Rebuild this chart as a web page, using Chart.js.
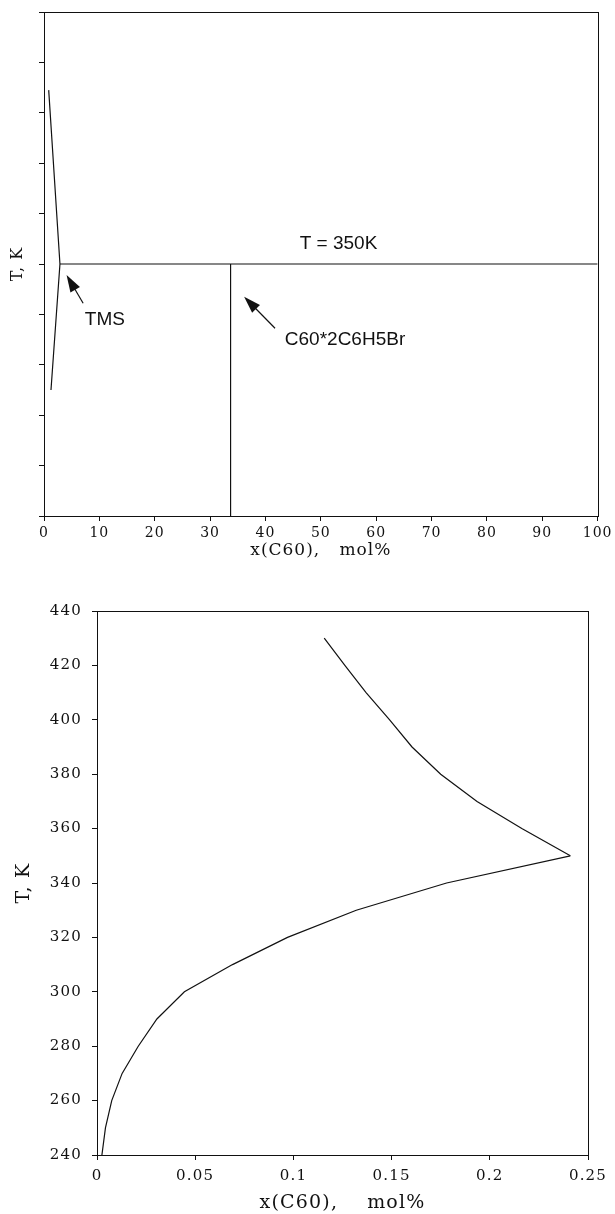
<!DOCTYPE html>
<html>
<head>
<meta charset="utf-8">
<script src="https://cdn.jsdelivr.net/npm/chart.js@4.4.0/dist/chart.umd.min.js"></script>
<style>
  html, body { margin: 0; padding: 0; background: #fff; }
  #wrap1 { position: absolute; left: 0; top: 0; width: 615px; height: 572px; }
  #wrap2 { position: absolute; left: 0; top: 578px; width: 615px; height: 636px; }
</style>
</head>
<body>
<div id="wrap1"><canvas id="overview"></canvas></div>
<div id="wrap2"><canvas id="detail"></canvas></div>
<script>
// overview diagram (top), x in mol%
const tmsX = [0.85, 2.88, 1.26];
const tmsT = [419, 350, 300];
const eutecticX = [2.88, 100];
const eutecticT = [350, 350];
const solvateX = [33.7, 33.7];
const solvateT = [350, 250];
const overviewXTicks = [0, 10, 20, 30, 40, 50, 60, 70, 80, 90, 100];

// solubility curve (bottom)
const lowerT = [240, 250, 260, 270, 280, 290, 300, 310, 320, 330, 340, 350];
const lowerX = [0.0025, 0.0043, 0.0075, 0.0128, 0.021, 0.0305, 0.0445, 0.069, 0.097, 0.132, 0.178, 0.241];
const upperT = [350, 360, 370, 380, 390, 400, 410, 420, 430];
const upperX = [0.241, 0.2163, 0.1935, 0.175, 0.1604, 0.149, 0.137, 0.1262, 0.1157];
const detailYTicks = [240, 260, 280, 300, 320, 340, 360, 380, 400, 420, 440];
const detailXTicks = [0, 0.05, 0.1, 0.15, 0.2, 0.25];

const pts = (xs, ys) => xs.map((x, i) => ({ x: x, y: ys[i] }));

const lineStyle = {
  showLine: true, pointRadius: 0, borderWidth: 1.2,
  borderColor: '#111', backgroundColor: '#111', tension: 0
};

const serif = '"DejaVu Serif", serif';
const sans = '19px "Liberation Sans", Arial, sans-serif';

// frame around plot area + letter spacing for the scanned look
const framePlugin = {
  id: 'frame',
  beforeDraw(chart, args, opts) {
    chart.ctx.letterSpacing = opts.spacing || '0px';
  },
  afterDraw(chart) {
    const a = chart.chartArea, ctx = chart.ctx;
    ctx.save();
    ctx.strokeStyle = '#111';
    ctx.lineWidth = 1;
    ctx.strokeRect(Math.round(a.left) + 0.5, Math.round(a.top) + 0.5,
                   Math.round(a.right - a.left), Math.round(a.bottom - a.top));
    ctx.restore();
  }
};

// labels and arrows placed in data units
const notesPlugin = {
  id: 'notes',
  afterDatasetsDraw(chart, args, opts) {
    const ctx = chart.ctx, sx = chart.scales.x, sy = chart.scales.y;
    ctx.save();
    ctx.letterSpacing = '0px';
    ctx.fillStyle = '#111';
    ctx.strokeStyle = '#111';
    (opts.texts || []).forEach(t => {
      ctx.font = t.font;
      ctx.textAlign = t.align;
      ctx.textBaseline = 'middle';
      ctx.fillText(t.text, sx.getPixelForValue(t.x), sy.getPixelForValue(t.y));
    });
    (opts.arrows || []).forEach(a => {
      const x0 = sx.getPixelForValue(a.from[0]), y0 = sy.getPixelForValue(a.from[1]);
      const x1 = sx.getPixelForValue(a.to[0]), y1 = sy.getPixelForValue(a.to[1]);
      const ang = Math.atan2(y1 - y0, x1 - x0);
      const len = 17, half = 5.5;
      ctx.lineWidth = 1.2;
      ctx.beginPath();
      ctx.moveTo(x0, y0);
      ctx.lineTo(x1 - Math.cos(ang) * len * 0.8, y1 - Math.sin(ang) * len * 0.8);
      ctx.stroke();
      const bx = x1 - Math.cos(ang) * len, by = y1 - Math.sin(ang) * len;
      ctx.beginPath();
      ctx.moveTo(x1, y1);
      ctx.lineTo(bx + Math.sin(ang) * half, by - Math.cos(ang) * half);
      ctx.lineTo(bx - Math.sin(ang) * half, by + Math.cos(ang) * half);
      ctx.closePath();
      ctx.fill();
    });
    ctx.restore();
  }
};

const baseOptions = {
  responsive: true,
  maintainAspectRatio: false,
  animation: false,
  events: [],
  plugins: { legend: { display: false }, tooltip: { enabled: false } }
};

new Chart(document.getElementById('overview'), {
  type: 'scatter',
  data: {
    datasets: [
      Object.assign({ data: pts(tmsX, tmsT) }, lineStyle),
      Object.assign({ data: pts(eutecticX, eutecticT) }, lineStyle),
      Object.assign({ data: pts(solvateX, solvateT) }, lineStyle)
    ]
  },
  options: Object.assign({}, baseOptions, {
    layout: { padding: { top: 12, right: 15, left: 0, bottom: 0 } },
    plugins: Object.assign({}, baseOptions.plugins, {
      frame: { spacing: '1px' },
      notes: {
        texts: [
          { text: 'T = 350K', x: 53.2, y: 358, align: 'center', font: sans },
          { text: 'TMS', x: 11, y: 327.8, align: 'center', font: sans },
          { text: 'C60*2C6H5Br', x: 43.5, y: 319.8, align: 'left', font: sans }
        ],
        arrows: [
          { from: [7.07, 334.4], to: [4.08, 345.6] },
          { from: [41.73, 324.5], to: [36.15, 337] }
        ]
      }
    }),
    scales: {
      x: {
        type: 'linear', min: 0, max: 100,
        afterBuildTicks: s => { s.ticks = overviewXTicks.map(v => ({ value: v })); },
        afterFit: s => { s.height = 56; },
        grid: { drawOnChartArea: false, tickLength: 5, color: '#111' },
        border: { color: '#111' },
        ticks: { color: '#111', padding: 4, maxRotation: 0, font: { family: serif, size: 14 } },
        title: { display: true, text: 'x(C60),   mol%', color: '#111',
                 font: { family: serif, size: 17 }, padding: { top: 0, bottom: 11 } }
      },
      y: {
        type: 'linear', min: 250, max: 450,
        ticks: { display: false, stepSize: 20 },
        afterFit: s => { s.width = 44; },
        grid: { drawOnChartArea: false, tickLength: 5, color: '#111' },
        border: { color: '#111' },
        title: { display: true, text: 'T, K', color: '#111',
                 font: { family: serif, size: 16 }, padding: { top: 8, bottom: 0 } }
      }
    }
  }),
  plugins: [framePlugin, notesPlugin]
});

new Chart(document.getElementById('detail'), {
  type: 'scatter',
  data: {
    datasets: [
      Object.assign({ data: pts(lowerX, lowerT) }, lineStyle),
      Object.assign({ data: pts(upperX, upperT) }, lineStyle)
    ]
  },
  options: Object.assign({}, baseOptions, {
    layout: { padding: { top: 33, right: 27, left: 0, bottom: 0 } },
    plugins: Object.assign({}, baseOptions.plugins, { frame: { spacing: '1.2px' } }),
    scales: {
      x: {
        type: 'linear', min: 0, max: 0.25,
        afterBuildTicks: s => { s.ticks = detailXTicks.map(v => ({ value: v })); },
        afterFit: s => { s.height = 59; },
        grid: { drawOnChartArea: false, tickLength: 5, color: '#111' },
        border: { color: '#111' },
        ticks: { color: '#111', padding: 7, maxRotation: 0, font: { family: serif, size: 15 },
                 callback: v => String(v) },
        title: { display: true, text: 'x(C60),    mol%', color: '#111',
                 font: { family: serif, size: 19 }, padding: { top: 0, bottom: 0 } }
      },
      y: {
        type: 'linear', min: 240, max: 440,
        afterBuildTicks: s => { s.ticks = detailYTicks.map(v => ({ value: v })); },
        afterFit: s => { s.width = 97; },
        grid: { drawOnChartArea: false, tickLength: 5, color: '#111' },
        border: { color: '#111' },
        ticks: { color: '#111', padding: 10, font: { family: serif, size: 15 } },
        title: { display: true, text: 'T, K', color: '#111',
                 font: { family: serif, size: 19 }, padding: { top: 13, bottom: 0 } }
      }
    }
  }),
  plugins: [framePlugin, notesPlugin]
});
</script>
</body>
</html>
